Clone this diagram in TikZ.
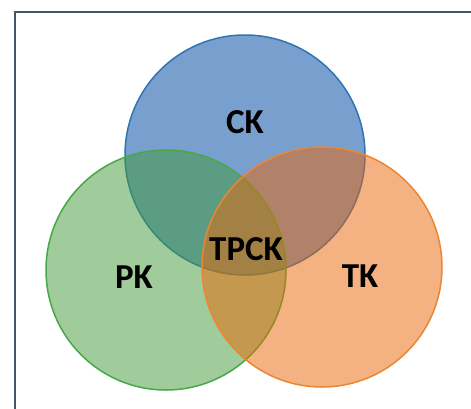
\documentclass[tikz,border=0pt]{standalone}
\usepackage{fontspec}
\setmainfont{Carlito}
\usepackage{tikz}
\definecolor{ckblue}{RGB}{65,119,188}
\definecolor{ckedge}{RGB}{46,117,182}
\definecolor{pkgreen}{RGB}{65,155,55}
\definecolor{pkedge}{RGB}{72,168,72}
\definecolor{tkorange}{RGB}{235,101,5}
\definecolor{tkedge}{RGB}{234,134,52}
\definecolor{frame}{RGB}{68,84,106}

\begin{document}
\begin{tikzpicture}[x=1pt, y=-1pt,
        set/.style={line width=1.5pt, fill opacity=0.5},
        lbl/.style={font=\fontsize{35}{35}\selectfont\bfseries, text=black}]
        \useasboundingbox (0,0) rectangle (471,408);
        \fill[white] (0,0) rectangle (471,408);
        \draw[frame, line width=2pt] (15,410) -- (15,12) -- (473,12);

        \draw[set, ckedge, fill=ckblue, fill opacity=0.7] (245,155) circle [radius=120];
        \draw[set, pkedge, fill=pkgreen] (166,270) circle [radius=120];
        \draw[set, tkedge, fill=tkorange] (322,267) circle [radius=120];

        \node[lbl] (ck) at (245,122) {CK};
        \node[lbl] (tpck) at (246,249) {TPCK};
        \node[lbl] (pk) at (134,277) {PK};
        \node[lbl] (tk) at (360,276) {TK};
    \end{tikzpicture}
\end{document}
